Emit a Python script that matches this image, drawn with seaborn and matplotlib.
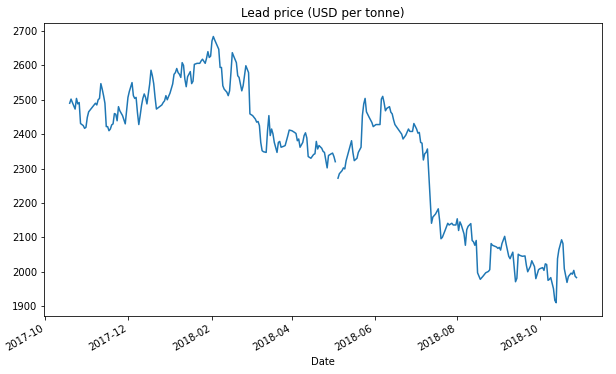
import numpy as np
import pandas as pd
import matplotlib
matplotlib.use("Agg")
import matplotlib.pyplot as plt
import matplotlib.dates as mdates
import seaborn as sns

dates = [
    "2017-10-19", "2017-10-20", "2017-10-21", "2017-10-23", "2017-10-24", "2017-10-25",
    "2017-10-26", "2017-10-27", "2017-10-29", "2017-10-30", "2017-10-31",
    "2017-11-01", "2017-11-02", "2017-11-04", "2017-11-06", "2017-11-07", "2017-11-08",
    "2017-11-09", "2017-11-10", "2017-11-11", "2017-11-12", "2017-11-13", "2017-11-14",
    "2017-11-15", "2017-11-16", "2017-11-17", "2017-11-18", "2017-11-19", "2017-11-20",
    "2017-11-21", "2017-11-22", "2017-11-23", "2017-11-24", "2017-11-25", "2017-11-27",
    "2017-11-28", "2017-11-29", "2017-11-30",
    "2017-12-01", "2017-12-02", "2017-12-04", "2017-12-05", "2017-12-06", "2017-12-07",
    "2017-12-08", "2017-12-09", "2017-12-10", "2017-12-11", "2017-12-12", "2017-12-13",
    "2017-12-14", "2017-12-15", "2017-12-16", "2017-12-17", "2017-12-18", "2017-12-19",
    "2017-12-20", "2017-12-21", "2017-12-22", "2017-12-23", "2017-12-26", "2017-12-27",
    "2017-12-28", "2017-12-29", "2017-12-30", "2017-12-31",
    "2018-01-01", "2018-01-02", "2018-01-03", "2018-01-04", "2018-01-05", "2018-01-06",
    "2018-01-07", "2018-01-08", "2018-01-09", "2018-01-10", "2018-01-11", "2018-01-12",
    "2018-01-13", "2018-01-14", "2018-01-16", "2018-01-17", "2018-01-18", "2018-01-19",
    "2018-01-21", "2018-01-23", "2018-01-24", "2018-01-25", "2018-01-27", "2018-01-28",
    "2018-01-29", "2018-01-30", "2018-01-31",
    "2018-02-01", "2018-02-02", "2018-02-03", "2018-02-06", "2018-02-07", "2018-02-08",
    "2018-02-09", "2018-02-10", "2018-02-12", "2018-02-13", "2018-02-14", "2018-02-15",
    "2018-02-16", "2018-02-17", "2018-02-19", "2018-02-20", "2018-02-21", "2018-02-23",
    "2018-02-24", "2018-02-25", "2018-02-26", "2018-02-28",
    "2018-03-01", "2018-03-03", "2018-03-05", "2018-03-06", "2018-03-07", "2018-03-08",
    "2018-03-09", "2018-03-10", "2018-03-11", "2018-03-13", "2018-03-14", "2018-03-15",
    "2018-03-16", "2018-03-17", "2018-03-18", "2018-03-19", "2018-03-21", "2018-03-22",
    "2018-03-23", "2018-03-24", "2018-03-26", "2018-03-27", "2018-03-29", "2018-03-30",
    "2018-04-01", "2018-04-03", "2018-04-04", "2018-04-05", "2018-04-06", "2018-04-07",
    "2018-04-09", "2018-04-10", "2018-04-11", "2018-04-12", "2018-04-13", "2018-04-15",
    "2018-04-17", "2018-04-18", "2018-04-19", "2018-04-20", "2018-04-21", "2018-04-23",
    "2018-04-24", "2018-04-25", "2018-04-27", "2018-04-28", "2018-04-30",
    "2018-05-01", "2018-05-02", "2018-05-03", "2018-05-04", "2018-05-05", "2018-05-06",
    "2018-05-08", "2018-05-09", "2018-05-10", "2018-05-11", "2018-05-13", "2018-05-15",
    "2018-05-16", "2018-05-17", "2018-05-19", "2018-05-20", "2018-05-22", "2018-05-23",
    "2018-05-24", "2018-05-25", "2018-05-26", "2018-05-28", "2018-05-30", "2018-05-31",
    "2018-06-02", "2018-06-03", "2018-06-05", "2018-06-06", "2018-06-07", "2018-06-08",
    "2018-06-09", "2018-06-10", "2018-06-12", "2018-06-13", "2018-06-14", "2018-06-15",
    "2018-06-16", "2018-06-18", "2018-06-21", "2018-06-22", "2018-06-24", "2018-06-26",
    "2018-06-27", "2018-06-29", "2018-06-30",
    "2018-07-02", "2018-07-03", "2018-07-04", "2018-07-05", "2018-07-06", "2018-07-07",
    "2018-07-08", "2018-07-09", "2018-07-10", "2018-07-13", "2018-07-14", "2018-07-16",
    "2018-07-18", "2018-07-19", "2018-07-20", "2018-07-21", "2018-07-23", "2018-07-25",
    "2018-07-26", "2018-07-28", "2018-07-29", "2018-07-31",
    "2018-08-01", "2018-08-02", "2018-08-03", "2018-08-04", "2018-08-06", "2018-08-07",
    "2018-08-08", "2018-08-09", "2018-08-11", "2018-08-12", "2018-08-13", "2018-08-14",
    "2018-08-15", "2018-08-16", "2018-08-18", "2018-08-20", "2018-08-22", "2018-08-24",
    "2018-08-25", "2018-08-26", "2018-08-27", "2018-08-30", "2018-08-31",
    "2018-09-01", "2018-09-02", "2018-09-03", "2018-09-05", "2018-09-06", "2018-09-08",
    "2018-09-09", "2018-09-10", "2018-09-11", "2018-09-13", "2018-09-14", "2018-09-15",
    "2018-09-16", "2018-09-18", "2018-09-20", "2018-09-21", "2018-09-22", "2018-09-24",
    "2018-09-25", "2018-09-27", "2018-09-28", "2018-09-30",
    "2018-10-01", "2018-10-03", "2018-10-04", "2018-10-05", "2018-10-06", "2018-10-07",
    "2018-10-08", "2018-10-09", "2018-10-11", "2018-10-12", "2018-10-13", "2018-10-14",
    "2018-10-15", "2018-10-17", "2018-10-18", "2018-10-19", "2018-10-21", "2018-10-22",
    "2018-10-24", "2018-10-25", "2018-10-26", "2018-10-27", "2018-10-28",
]

prices = [
    2490, 2502, 2492, 2473, 2504, 2488, 2492, 2431, 2425, 2417, 2420,
    2449, 2465, 2475, 2485, 2490, 2485, 2500, 2504, 2547, 2531, 2512, 2490,
    2422, 2422, 2410, 2415, 2427, 2430, 2460, 2458, 2439, 2480, 2468, 2454,
    2442, 2430, 2468,
    2507, 2524, 2550, 2512, 2504, 2507, 2463, 2428, 2454, 2483, 2504, 2517,
    2507, 2488, 2517, 2545, 2586, 2570, 2547, 2507, 2473, 2476, 2485, 2492,
    2497, 2512, 2500, 2510,
    2519, 2533, 2546, 2574, 2579, 2591, 2579, 2574, 2565, 2608, 2600, 2560,
    2538, 2567, 2582, 2547, 2554, 2603, 2606, 2606, 2613, 2618, 2606, 2621,
    2640, 2623, 2627,
    2671, 2684, 2674, 2647, 2594, 2594, 2541, 2531, 2522, 2512, 2526, 2579,
    2637, 2627, 2608, 2570, 2565, 2526, 2541, 2570, 2599, 2579,
    2459, 2454, 2444, 2435, 2437, 2425, 2376, 2352, 2349, 2347, 2410, 2454,
    2396, 2415, 2401, 2376, 2347, 2376, 2379, 2362, 2365, 2367, 2396, 2412,
    2410, 2405, 2402, 2381, 2386, 2362, 2376, 2396, 2404, 2389, 2335, 2330,
    2341, 2343, 2379, 2357, 2367, 2359, 2350, 2347, 2302, 2338, 2343,
    2345, 2335, 2320, np.nan, 2272, 2285, 2294, 2302, 2299, 2323, 2352, 2381,
    2347, 2323, 2330, 2347, 2362, 2454, 2488, 2504, 2465, 2449, 2434, 2422,
    2428, 2428, 2428, 2502, 2510, 2492, 2468, 2475, 2480, 2464, 2459, 2442,
    2428, 2417, 2400, 2386, 2397, 2415, 2408, 2408, 2431,
    2415, 2403, 2405, 2376, 2374, 2325, 2343, 2347, 2357, 2141, 2159, 2168,
    2183, 2149, 2096, 2100, 2120, 2141, 2136, 2141, 2136, 2136,
    2154, 2120, 2145, 2136, 2110, 2077, 2122, 2132, 2140, 2091, 2087, 2077,
    2091, 1997, 1978, 1987, 1997, 2001, 2006, 2082, 2077, 2072, 2068,
    2071, 2063, 2082, 2103, 2082, 2045, 2038, 2048, 2057, 1971, 1981, 2051,
    2048, 2045, 2046, 2019, 2000, 2016, 2032, 2015, 1980, 2006,
    2009, 2012, 2004, 2023, 2021, 1975, 1978, 1983, 1951, 1917, 1910, 2038,
    2064, 2093, 2082, 2009, 1969, 1986, 1996, 1993, 2004, 1987, 1983,
]

title = "Lead price (USD per tonne)"

df = pd.DataFrame({"Date": pd.to_datetime(dates), "Price": prices})
df["segment"] = df["Price"].isna().cumsum()
df = df.dropna()

DPI = 72
fig, ax = plt.subplots(figsize=(616 / DPI, 374 / DPI), dpi=DPI)
fig.subplots_adjust(left=0.072, right=0.977, top=0.938, bottom=0.155)

sns.lineplot(data=df, x="Date", y="Price", units="segment", estimator=None,
             color="#1f77b4", linewidth=1.5, ax=ax)

ax.set_title(title)
ax.set_xlabel("Date")
ax.set_ylabel("")
ax.xaxis.set_major_locator(mdates.MonthLocator(bymonth=[2, 4, 6, 8, 10, 12]))
ax.xaxis.set_major_formatter(mdates.DateFormatter("%Y-%m"))
for lbl in ax.get_xticklabels():
    lbl.set_rotation(30)
    lbl.set_ha("right")
ax.set_yticks([1900, 2000, 2100, 2200, 2300, 2400, 2500, 2600, 2700])

fig.savefig("out.png", dpi=DPI)
